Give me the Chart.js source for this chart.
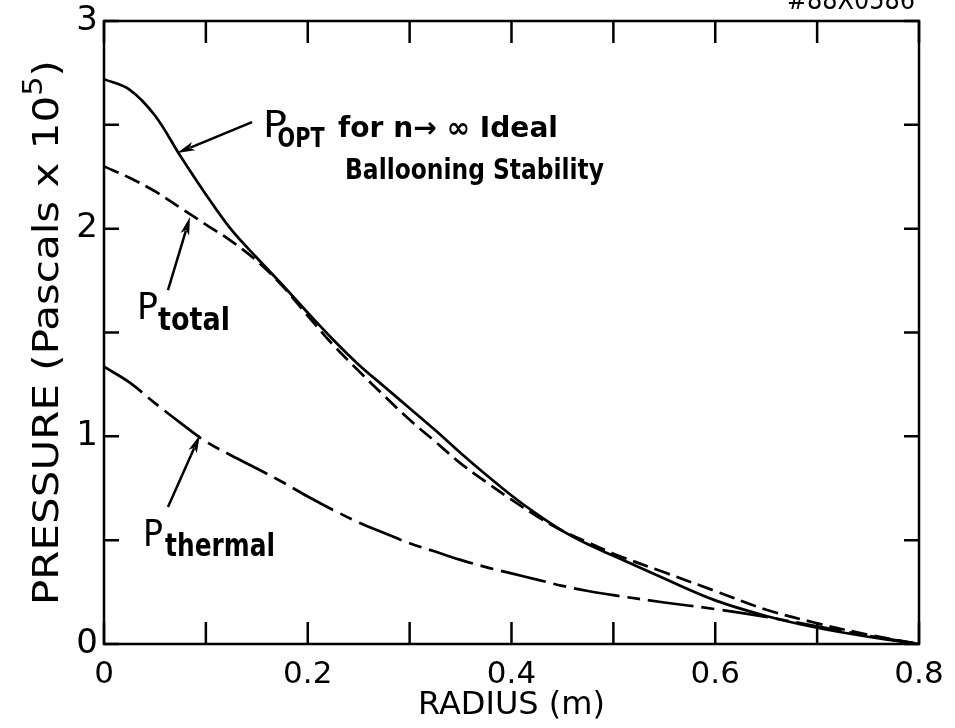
<!DOCTYPE html>
<html>
<head>
<meta charset="utf-8">
<title>Pressure profiles</title>
<script src="https://cdn.jsdelivr.net/npm/chart.js@4.4.1/dist/chart.umd.min.js"></script>
<style>
    html, body { margin: 0; padding: 0; background: #fff; }
    #wrap { width: 955px; height: 728px; }
</style>
</head>
<body>
<div id="wrap"><canvas id="pressure-chart" width="955" height="728"></canvas></div>
<script>
// --- data (radius in m, pressure in units of 1e5 Pa) ---
const radius = [0, 0.025, 0.05, 0.075, 0.1, 0.125, 0.15, 0.175, 0.2, 0.225, 0.25, 0.275, 0.3,
    0.325, 0.35, 0.375, 0.4, 0.425, 0.45, 0.475, 0.5, 0.55, 0.6, 0.65, 0.7, 0.75, 0.8];
const pOpt = [2.72, 2.67, 2.545, 2.35, 2.165, 1.995, 1.86, 1.73, 1.595, 1.465, 1.345, 1.24, 1.135,
    1.03, 0.92, 0.815, 0.715, 0.625, 0.545, 0.48, 0.425, 0.315, 0.21, 0.135, 0.078, 0.035, 0.0];
const pTotal = [2.30, 2.245, 2.18, 2.10, 2.02, 1.94, 1.845, 1.725, 1.58, 1.44, 1.315, 1.195, 1.08,
    0.975, 0.87, 0.78, 0.695, 0.615, 0.545, 0.49, 0.435, 0.345, 0.255, 0.165, 0.10, 0.045, 0.0];
const pThermal = [1.335, 1.26, 1.16, 1.065, 0.975, 0.908, 0.845, 0.78, 0.71, 0.645, 0.585, 0.535, 0.485,
    0.445, 0.405, 0.37, 0.34, 0.31, 0.28, 0.255, 0.235, 0.2, 0.168, 0.13, 0.085, 0.04, 0.0];

const xTickLabels = ["0", "0.2", "0.4", "0.6", "0.8"];   // every 0.2 m
const yTickLabels = ["0", "1", "2", "3"];                 // every 1e5 Pa

const FONT = '"DejaVu Sans", "Liberation Sans", sans-serif';

function toPoints(ys) {
    return radius.map((r, i) => ({ x: r, y: ys[i] }));
}

// draw text squeezed to a given width (the lettering is narrow)
function fitText(ctx, text, x, y, width, font) {
    ctx.font = font;
    const w = ctx.measureText(text).width;
    ctx.save();
    ctx.translate(x, y);
    ctx.scale(width / w, 1);
    ctx.fillText(text, 0, 0);
    ctx.restore();
}

function arrow(ctx, x0, y0, x1, y1) {
    const ang = Math.atan2(y1 - y0, x1 - x0);
    const c = Math.cos(ang), s = Math.sin(ang);
    const len = 18, half = 4.5;
    ctx.beginPath();
    ctx.moveTo(x0, y0);
    ctx.lineTo(x1 - c * len * 0.8, y1 - s * len * 0.8);
    ctx.stroke();
    ctx.beginPath();
    ctx.moveTo(x1, y1);
    ctx.lineTo(x1 - c * len - s * half, y1 - s * len + c * half);
    ctx.lineTo(x1 - c * len * 0.75, y1 - s * len * 0.75);
    ctx.lineTo(x1 - c * len + s * half, y1 - s * len - c * half);
    ctx.closePath();
    ctx.fill();
}

// box around the plot with inward ticks on all four sides
const frameAndTicks = {
    id: "frameAndTicks",
    afterDatasetsDraw(chart) {
        const { ctx, chartArea: a, scales: { x, y } } = chart;
        ctx.save();
        ctx.strokeStyle = "#000";
        ctx.lineWidth = 2.5;
        ctx.strokeRect(a.left, a.top, a.right - a.left, a.bottom - a.top);
        ctx.beginPath();
        x.ticks.forEach(t => {
            const px = x.getPixelForValue(t.value);
            ctx.moveTo(px, a.bottom); ctx.lineTo(px, a.bottom - 22);
            ctx.moveTo(px, a.top); ctx.lineTo(px, a.top + 22);
        });
        y.ticks.forEach(t => {
            const py = y.getPixelForValue(t.value);
            ctx.moveTo(a.left, py); ctx.lineTo(a.left + 15, py);
            ctx.moveTo(a.right, py); ctx.lineTo(a.right - 15, py);
        });
        ctx.stroke();
        ctx.restore();
    }
};

// y axis title, with a raised exponent
const yTitle = {
    id: "yTitle",
    afterDraw(chart) {
        const { ctx, chartArea: a } = chart;
        const main = `36px ${FONT}`, sup = `26px ${FONT}`;
        const parts = [
            { t: "PRESSURE (Pascals x 10", f: main, dy: 0 },
            { t: "5", f: sup, dy: -16 },
            { t: ")", f: main, dy: 0 }
        ];
        let natural = 0;
        parts.forEach(p => { ctx.font = p.f; p.w = ctx.measureText(p.t).width; natural += p.w; });
        const target = 545;
        const k = target / natural;
        ctx.save();
        ctx.fillStyle = "#000";
        ctx.textBaseline = "alphabetic";
        ctx.textAlign = "left";
        ctx.translate(58, (a.top + a.bottom) / 2 + target / 2);
        ctx.rotate(-Math.PI / 2);
        ctx.scale(k, 1);
        let cx = 0;
        parts.forEach(p => {
            ctx.font = p.f;
            ctx.fillText(p.t, cx, p.dy);
            cx += p.w;
        });
        ctx.restore();
    }
};

// curve labels with pointer arrows, plus the figure number
const curveLabels = {
    id: "curveLabels",
    afterDraw(chart) {
        const { ctx, scales: { x, y } } = chart;
        const X = v => x.getPixelForValue(v);
        const Y = v => y.getPixelForValue(v);
        ctx.save();
        ctx.fillStyle = "#000";
        ctx.strokeStyle = "#000";
        ctx.lineWidth = 2.5;
        ctx.textBaseline = "alphabetic";
        ctx.textAlign = "left";

        // P_OPT
        fitText(ctx, "P", X(0.156), Y(2.441), 24, `37px ${FONT}`);
        fitText(ctx, "OPT", X(0.1704), Y(2.393), 47, `bold 27px ${FONT}`);
        fitText(ctx, "for n\u2192 \u221e Ideal", X(0.2297), Y(2.441), 220, `bold 28px ${FONT}`);
        fitText(ctx, "Ballooning Stability", X(0.2366), Y(2.239), 259, `bold 28px ${FONT}`);
        arrow(ctx, X(0.1453), Y(2.513), X(0.0717), Y(2.364));

        // P_total
        fitText(ctx, "P", X(0.0324), Y(1.565), 21, `37px ${FONT}`);
        fitText(ctx, "total", X(0.053), Y(1.512), 72, `bold 32px ${FONT}`);
        arrow(ctx, X(0.0628), Y(1.704), X(0.0844), Y(2.056));

        // P_thermal
        fitText(ctx, "P", X(0.0383), Y(0.472), 20, `37px ${FONT}`);
        fitText(ctx, "thermal", X(0.0599), Y(0.424), 110, `bold 32px ${FONT}`);
        arrow(ctx, X(0.0628), Y(0.660), X(0.0942), Y(1.006));

        fitText(ctx, "#88X0586", 787, 9, 128, `26px ${FONT}`);
        ctx.restore();
    }
};

const lineStyle = {
    borderColor: "#000",
    borderWidth: 2.7,
    pointRadius: 0,
    fill: false,
    tension: 0.35
};

new Chart(document.getElementById("pressure-chart"), {
    type: "line",
    data: {
        datasets: [
            { label: "P_OPT", data: toPoints(pOpt), ...lineStyle },
            { label: "P_total", data: toPoints(pTotal), ...lineStyle, borderDash: [16, 7] },
            { label: "P_thermal", data: toPoints(pThermal), ...lineStyle, borderDash: [46, 8, 13, 8] }
        ]
    },
    options: {
        responsive: false,
        animation: false,
        devicePixelRatio: 1,
        layout: { padding: { left: 0, top: 21, right: 36, bottom: 0 } },
        plugins: {
            legend: { display: false },
            tooltip: { enabled: false }
        },
        scales: {
            x: {
                type: "linear",
                min: 0,
                max: 0.8,
                grid: { display: false, drawTicks: false },
                border: { display: false },
                ticks: {
                    stepSize: 0.1,
                    padding: 12,
                    color: "#000",
                    maxRotation: 0,
                    autoSkip: false,
                    font: { family: FONT, size: 31 },
                    callback: v => {
                        const k = Math.round(v * 5);
                        return Math.abs(v * 5 - k) < 1e-6 ? xTickLabels[k] : "";
                    }
                },
                title: {
                    display: true,
                    text: "RADIUS (m)",
                    color: "#000",
                    font: { family: FONT, size: 32 },
                    padding: { top: 0, bottom: 3 }
                },
                afterFit(scale) {
                    scale.height = 84;
                    scale.paddingLeft = 0;
                    scale.paddingRight = 0;
                }
            },
            y: {
                min: 0,
                max: 3,
                grid: { display: false, drawTicks: false },
                border: { display: false },
                ticks: {
                    stepSize: 0.5,
                    padding: 6,
                    color: "#000",
                    font: { family: FONT, size: 34 },
                    callback: v => Number.isInteger(v) ? yTickLabels[v] : ""
                },
                title: { display: false },
                afterFit(scale) {
                    scale.width = 104;
                    scale.paddingTop = 0;
                    scale.paddingBottom = 0;
                }
            }
        }
    },
    plugins: [frameAndTicks, yTitle, curveLabels]
});
</script>
</body>
</html>
